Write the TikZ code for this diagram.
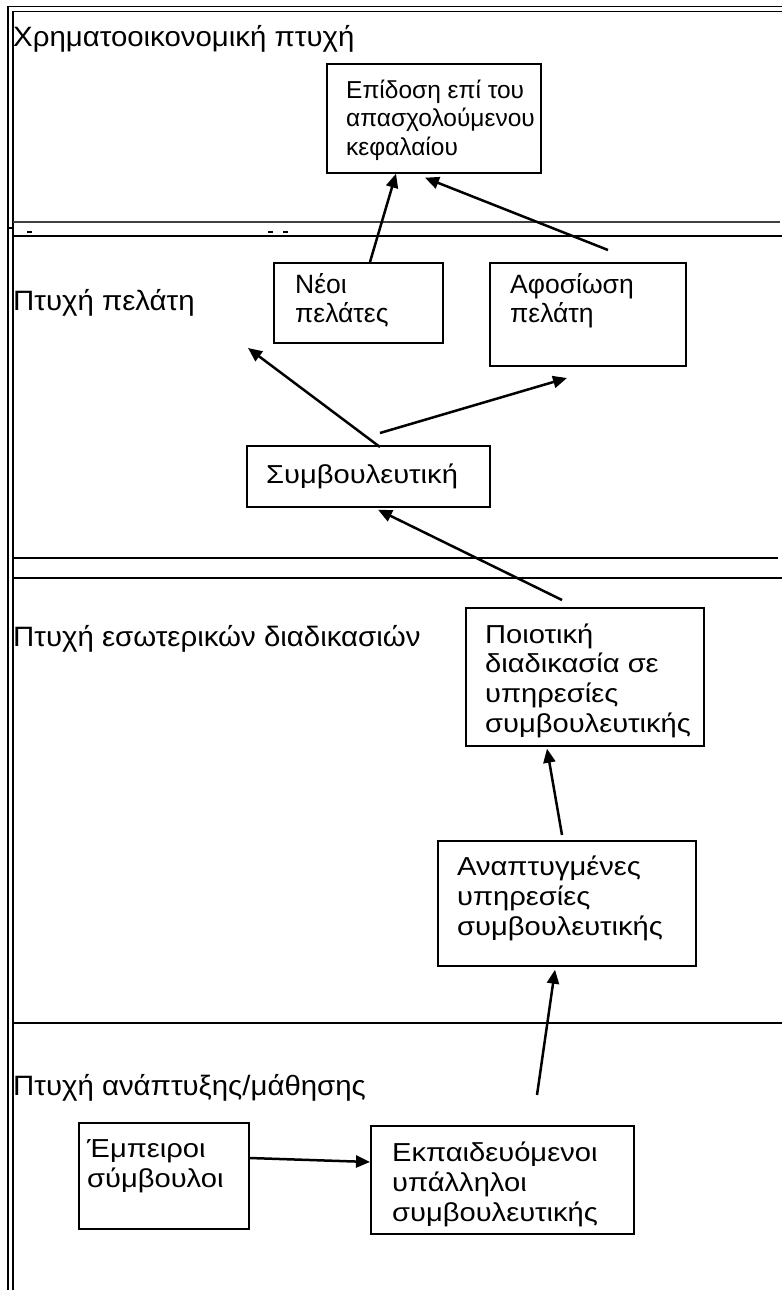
\documentclass[tikz,border=0pt]{standalone}
\usepackage{fontspec}
\setmainfont{Liberation Sans}
\newfontfamily\wideface{Liberation Sans}[FakeStretch=1.12]
\newfontfamily\bandface{Liberation Sans}[FakeStretch=1.05]
\usetikzlibrary{arrows.meta}

\begin{document}
\begin{tikzpicture}[x=1pt, y=-1pt,
  box/.style={draw, line width=1.7pt, inner sep=0pt, anchor=north west},
  boxtext/.style={anchor=base west, align=left, inner sep=0pt,
                  font=\fontsize{24.5}{28.5}\selectfont},
  pairtext/.style={boxtext, font=\fontsize{26.5}{29}\selectfont},
  widetext/.style={boxtext, font=\wideface\fontsize{26}{29.6}\selectfont},
  band/.style={anchor=base west, inner sep=0pt, font=\bandface\fontsize{28}{32}\selectfont},
  sep/.style={line width=2pt},
  link/.style={line width=2.5pt, -{Triangle[length=14pt, width=12pt]}},
]
\useasboundingbox (0,0) rectangle (782,1290);

% frame
\draw[line width=1.5pt] (8,1290) -- (8,6.5) -- (782,6.5);
\draw[line width=1.5pt] (13,1290) -- (13,11.5) -- (782,11.5);

% separators between the perspectives
\draw[line width=1.2pt, black!75] (13,222) -- (780,222);
\draw[sep] (13,236) -- (782,236);
\draw[sep] (13,558) -- (778,558);
\draw[line width=1.5pt] (13,578) -- (782,578);
\draw[sep] (13,1023) -- (782,1023);
\draw[line width=1.5pt] (9,228) -- (14,228);
\draw[line width=1.5pt] (27,232) -- (32,232);
\draw[line width=1.5pt] (268,232) -- (273,232);
\draw[line width=1.5pt] (283,232) -- (288,232);

\node[band] (finLbl) at (13,47) {Χρηματοοικονομική πτυχή};
\node[band] (custLbl) at (13,310) {Πτυχή πελάτη};
\node[band] (procLbl) at (13,646) {Πτυχή εσωτερικών διαδικασιών};
\node[band] (learnLbl) at (13,1095) {Πτυχή ανάπτυξης/μάθησης};

\node[box, minimum width=214pt, minimum height=109pt] (epid) at (326,63) {};
\node[box, minimum width=169pt, minimum height=80pt] (neoi) at (273,262) {};
\node[box, minimum width=196pt, minimum height=103pt] (afos) at (489,262) {};
\node[box, minimum width=243pt, minimum height=61pt] (symv) at (246,445) {};
\node[box, minimum width=238pt, minimum height=138pt] (poiot) at (465,607) {};
\node[box, minimum width=258pt, minimum height=125pt] (anapt) at (437,840) {};
\node[box, minimum width=170pt, minimum height=106pt] (empeir) at (78,1122) {};
\node[box, minimum width=263pt, minimum height=108pt] (ekpaid) at (370,1125) {};

% text sits on the baseline of its last line
\node[boxtext] (epidTxt) at (346,155) {Επίδοση επί του\\απασχολούμενου\\κεφαλαίου};
\node[pairtext] (neoiTxt) at (295,322) {Νέοι\\πελάτες};
\node[pairtext] (afosTxt) at (510,322) {Αφοσίωση\\πελάτη};
\node[widetext] (symvTxt) at (266,483) {Συμβουλευτική};
\node[widetext] (poiotTxt) at (485,732) {Ποιοτική\\διαδικασία σε\\υπηρεσίες\\συμβουλευτικής};
\node[widetext] (anaptTxt) at (457,935) {Αναπτυγμένες\\υπηρεσίες\\συμβουλευτικής};
\node[widetext] (empeirTxt) at (87,1187) {Έμπειροι\\σύμβουλοι};
\node[widetext] (ekpaidTxt) at (392,1221) {Εκπαιδευόμενοι\\υπάλληλοι\\συμβουλευτικής};

% free ends
\coordinate (afosTail) at (608,250);
\coordinate (custTip) at (248,348);
\coordinate (symvTail) at (380,433);
\coordinate (afosTip) at (567,378);
\coordinate (ekpaidTail) at (537,1095);

\draw[link] ([xshift=97pt]neoi.north west) -- ([xshift=70pt]epid.south west);
\draw[link] (afosTail) -- ([xshift=99pt, yshift=-4pt]epid.south west);
\draw[link] ([xshift=134pt, yshift=-2pt]symv.north west) -- (custTip);
\draw[link] (symvTail) -- (afosTip);
\draw[link] ([xshift=97pt, yshift=7pt]poiot.north west) -- ([xshift=132pt, yshift=-2pt]symv.south west);
\draw[link] ([xshift=125pt, yshift=5pt]anapt.north west) -- ([xshift=82pt, yshift=-2pt]poiot.south west);
\draw[link] (ekpaidTail) -- ([xshift=118pt, yshift=-3pt]anapt.south west);
\draw[link] ([yshift=-36pt]empeir.north east) -- ([yshift=-37pt]ekpaid.north west);

\end{tikzpicture}
\end{document}
